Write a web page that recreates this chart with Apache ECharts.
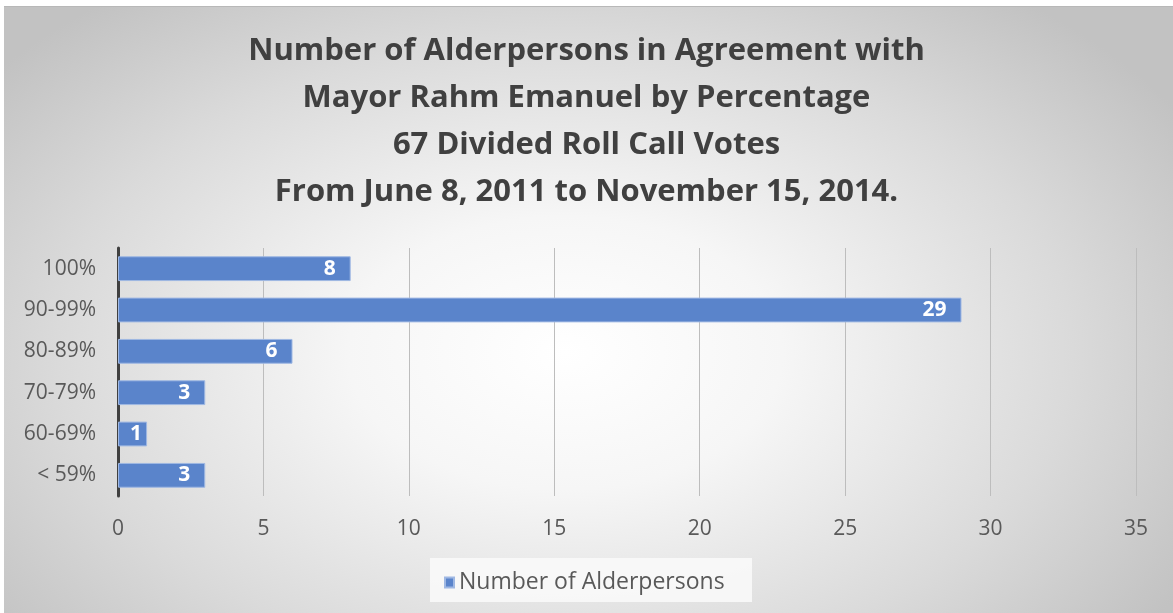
<!DOCTYPE html>
<html>
<head>
<meta charset="utf-8">
<script src="https://cdn.jsdelivr.net/npm/echarts@6/dist/echarts.min.js"></script>
<style>
  html, body { margin: 0; padding: 0; background: #ffffff; }
  #frame {
    position: absolute; left: 4px; top: 6px; width: 1169px; height: 607px;
    border-top: 1px solid #b8b8b8;
    background: radial-gradient(ellipse 62% 75% at 48% 57%, #ffffff 0%, #f6f6f6 30%, #dadada 70%, #c2c2c2 100%);
  }
  #chart { position: absolute; left: 0; top: 0; width: 1173px; height: 613px; }
</style>
</head>
<body>
<div id="frame"></div>
<div id="chart"></div>
<script>
// Agreement buckets, top to bottom as listed on the axis
const categories = ['100%', '90-99%', '80-89%', '70-79%', '60-69%', '< 59%'];
const alderpersons = [8, 29, 6, 3, 1, 3];
const seriesName = 'Number of Alderpersons';
const titleLines = [
  'Number of Alderpersons in Agreement with',
  'Mayor Rahm Emanuel by Percentage',
  '67 Divided Roll Call Votes',
  'From June 8, 2011 to November 15, 2014.'
];

const chart = echarts.init(document.getElementById('chart'), null, { renderer: 'canvas' });
const font = '"Open Sans", "Liberation Sans", sans-serif';

// Very short bars keep their value label closer to the bar end
const barData = alderpersons.map(v => v < 2 ? { value: v, label: { distance: 5 } } : v);

chart.setOption({
  backgroundColor: 'transparent',
  textStyle: { fontFamily: font },
  title: {
    text: titleLines.join('\n'),
    left: 'center',
    top: 23,
    textStyle: {
      fontFamily: font,
      fontSize: 31,
      fontWeight: 'bold',
      color: '#404040',
      lineHeight: 47
    }
  },
  graphic: [{
    type: 'rect',
    z: -1,
    shape: { x: 430, y: 558, width: 322, height: 44 },
    style: { fill: 'rgba(250,250,250,0.85)' }
  }],
  legend: {
    data: [seriesName],
    left: 439,
    top: 566,
    icon: 'rect',
    itemWidth: 9,
    itemHeight: 10,
    itemGap: 4,
    textStyle: { fontFamily: font, fontSize: 23, color: '#595959' }
  },
  grid: { left: 118, right: 37, top: 248, height: 248, containLabel: false },
  xAxis: {
    type: 'value',
    min: 0,
    max: 35,
    interval: 5,
    axisLine: { show: false },
    axisTick: { show: false },
    axisLabel: { fontFamily: font, fontSize: 21, color: '#595959', margin: 23 },
    splitLine: { show: true, lineStyle: { color: '#bdbdbd', width: 1 } }
  },
  yAxis: {
    type: 'category',
    inverse: true,
    data: categories,
    axisLine: { show: true, onZero: false, lineStyle: { color: '#404040', width: 3 } },
    axisTick: { show: false },
    axisLabel: { fontFamily: font, fontSize: 21, color: '#595959', margin: 22 }
  },
  series: [{
    name: seriesName,
    type: 'bar',
    data: barData,
    barCategoryGap: '40%',
    itemStyle: { color: '#5a84cb', borderColor: '#9fb8e3', borderWidth: 1 },
    label: {
      show: true,
      position: 'insideRight',
      distance: 15,
      color: '#ffffff',
      fontFamily: font,
      fontWeight: 'bold',
      fontSize: 21
    }
  }]
});
</script>
</body>
</html>
